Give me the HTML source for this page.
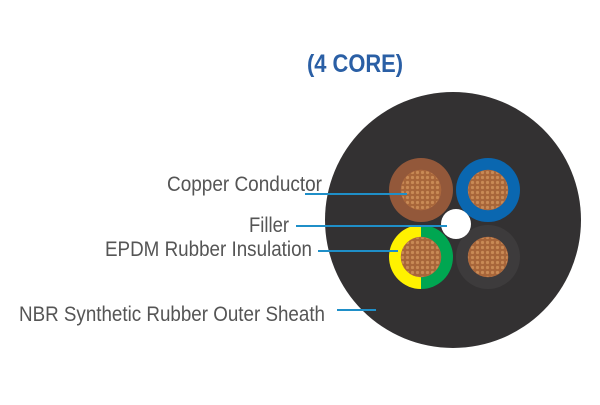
<!DOCTYPE html>
<html><head><style>html,body{margin:0;padding:0;background:#fff}</style></head><body>
<svg width="600" height="400" viewBox="0 0 600 400" xmlns="http://www.w3.org/2000/svg">
<defs>
<pattern id="strand" width="5" height="5" patternUnits="userSpaceOnUse">
<rect width="5" height="5" fill="#a8663a"/><circle cx="2.5" cy="2.5" r="1.6" fill="#c88a55"/>
</pattern>
</defs>
<text x="355" y="72" text-anchor="middle" font-family="Liberation Sans, sans-serif" font-weight="bold" font-size="25" fill="#2a5fa5" textLength="96" lengthAdjust="spacingAndGlyphs">(4 CORE)</text>
<circle cx="453" cy="220" r="128" fill="#333132"/>
<circle cx="421" cy="190" r="32" fill="#93583a"/>
<circle cx="488" cy="190" r="32" fill="#0a67b0"/>
<path d="M421 225 A32 32 0 0 0 421 289 Z" fill="#fff200"/>
<path d="M421 225 A32 32 0 0 1 421 289 Z" fill="#00a651"/>
<circle cx="488" cy="257" r="32" fill="#3d3b3c"/>
<g fill="url(#strand)" stroke="#b06a40" stroke-width="0.5">
<circle cx="421" cy="190" r="20"/><circle cx="488" cy="190" r="20"/>
<circle cx="421" cy="257" r="20"/><circle cx="488" cy="257" r="20"/>
</g>
<circle cx="456" cy="224" r="15" fill="#fff"/>
<g stroke="#1f8fc8" stroke-width="2">
<line x1="305" y1="194" x2="407" y2="194"/>
<line x1="296" y1="226" x2="447" y2="226"/>
<line x1="318" y1="251" x2="398" y2="251"/>
<line x1="337" y1="310" x2="376" y2="310"/>
</g>
<g font-family="Liberation Sans, sans-serif" font-size="21" fill="#555">
<text x="167" y="191" textLength="155" lengthAdjust="spacingAndGlyphs">Copper Conductor</text>
<text x="249" y="232" textLength="40" lengthAdjust="spacingAndGlyphs">Filler</text>
<text x="105" y="256" textLength="207" lengthAdjust="spacingAndGlyphs">EPDM Rubber Insulation</text>
<text x="19" y="321" textLength="306" lengthAdjust="spacingAndGlyphs">NBR Synthetic Rubber Outer Sheath</text>
</g>
</svg>
</body></html>
